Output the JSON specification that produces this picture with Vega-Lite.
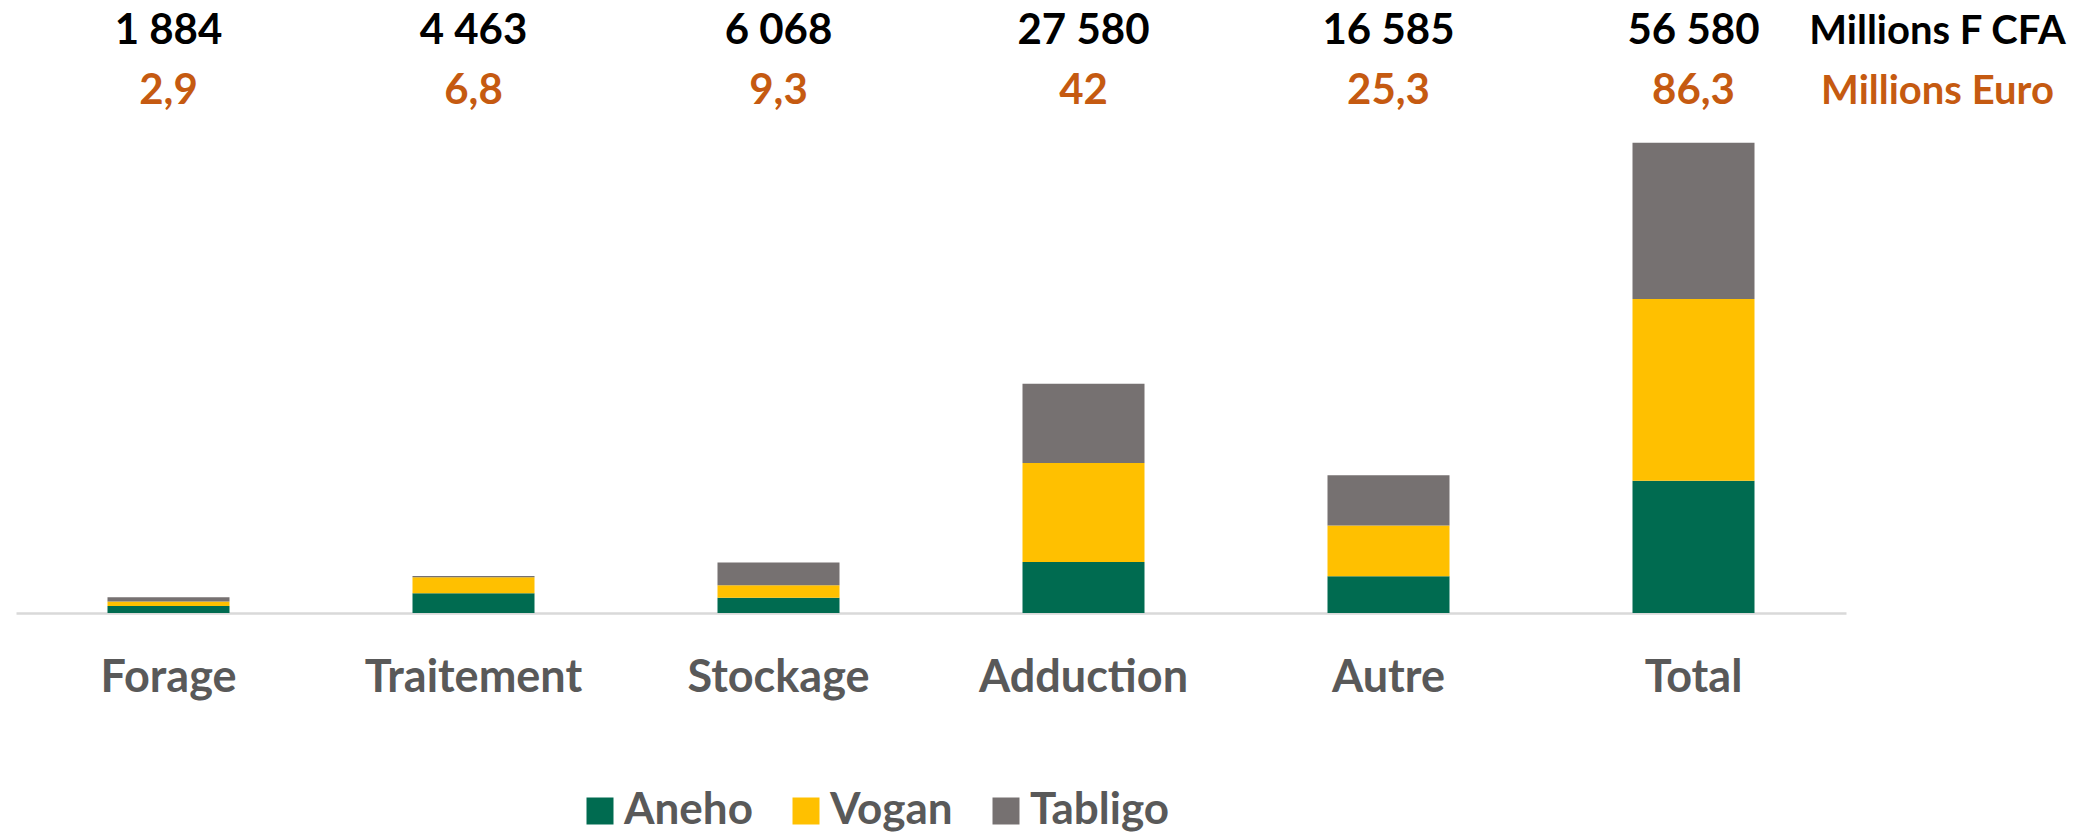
{
  "$schema": "https://vega.github.io/schema/vega-lite/v6.json",
  "padding": {"left": 16, "top": 0, "right": 0, "bottom": 0},
  "background": "white",
  "config": {"view": {"stroke": null}, "font": "Lato"},
  "spacing": 0,
  "datasets": {
    "header": [
      {"cat": "Forage", "unit": "Millions F CFA", "label": "1 884"},
      {"cat": "Traitement", "unit": "Millions F CFA", "label": "4 463"},
      {"cat": "Stockage", "unit": "Millions F CFA", "label": "6 068"},
      {"cat": "Adduction", "unit": "Millions F CFA", "label": "27 580"},
      {"cat": "Autre", "unit": "Millions F CFA", "label": "16 585"},
      {"cat": "Total", "unit": "Millions F CFA", "label": "56 580"},
      {"cat": "Forage", "unit": "Millions Euro", "label": "2,9"},
      {"cat": "Traitement", "unit": "Millions Euro", "label": "6,8"},
      {"cat": "Stockage", "unit": "Millions Euro", "label": "9,3"},
      {"cat": "Adduction", "unit": "Millions Euro", "label": "42"},
      {"cat": "Autre", "unit": "Millions Euro", "label": "25,3"},
      {"cat": "Total", "unit": "Millions Euro", "label": "86,3"}
    ],
    "units": [
      {"cat": "unit", "unit": "Millions F CFA"},
      {"cat": "unit", "unit": "Millions Euro"}
    ],
    "bars": [
      {"cat": "Forage", "site": "Aneho", "ord": 1, "value": 856},
      {"cat": "Forage", "site": "Vogan", "ord": 2, "value": 538},
      {"cat": "Forage", "site": "Tabligo", "ord": 3, "value": 490},
      {"cat": "Traitement", "site": "Aneho", "ord": 1, "value": 2373},
      {"cat": "Traitement", "site": "Vogan", "ord": 2, "value": 1930},
      {"cat": "Traitement", "site": "Tabligo", "ord": 3, "value": 160},
      {"cat": "Stockage", "site": "Aneho", "ord": 1, "value": 1820},
      {"cat": "Stockage", "site": "Vogan", "ord": 2, "value": 1530},
      {"cat": "Stockage", "site": "Tabligo", "ord": 3, "value": 2718},
      {"cat": "Adduction", "site": "Aneho", "ord": 1, "value": 6135},
      {"cat": "Adduction", "site": "Vogan", "ord": 2, "value": 11910},
      {"cat": "Adduction", "site": "Tabligo", "ord": 3, "value": 9535},
      {"cat": "Autre", "site": "Aneho", "ord": 1, "value": 4420},
      {"cat": "Autre", "site": "Vogan", "ord": 2, "value": 6120},
      {"cat": "Autre", "site": "Tabligo", "ord": 3, "value": 6045},
      {"cat": "Total", "site": "Aneho", "ord": 1, "value": 15916},
      {"cat": "Total", "site": "Vogan", "ord": 2, "value": 21860},
      {"cat": "Total", "site": "Tabligo", "ord": 3, "value": 18804}
    ]
  },
  "vconcat": [
    {
      "width": 2060,
      "height": 120,
      "layer": [
        {
          "data": {"name": "header"},
          "mark": {"type": "text", "font": "Lato", "fontWeight": "bold", "fontSize": 42, "baseline": "alphabetic", "align": "center"},
          "encoding": {
            "x": {"field": "cat", "type": "nominal", "sort": null,
                  "scale": {"type": "band", "domain": ["Forage", "Traitement", "Stockage", "Adduction", "Autre", "Total", "unit"], "range": [0, 2135], "paddingInner": 0.6, "paddingOuter": 0.3},
                  "axis": null},
            "y": {"field": "unit", "type": "nominal",
                  "scale": {"type": "point", "domain": ["Millions F CFA", "Millions Euro"], "range": [44, 104], "padding": 0},
                  "axis": null},
            "text": {"field": "label"},
            "color": {"field": "unit", "type": "nominal",
                      "scale": {"domain": ["Millions F CFA", "Millions Euro"], "range": ["#000000", "#C55A11"]},
                      "legend": null}
          }
        },
        {
          "data": {"name": "units"},
          "mark": {"type": "text", "font": "Lato", "fontWeight": "bold", "fontSize": 40, "baseline": "alphabetic", "align": "center"},
          "encoding": {
            "x": {"field": "cat", "type": "nominal", "bandPosition": 0},
            "y": {"field": "unit", "type": "nominal"},
            "text": {"field": "unit"},
            "color": {"field": "unit", "type": "nominal"}
          }
        }
      ]
    },
    {
      "width": 1830,
      "height": 493,
      "data": {"name": "bars"},
      "mark": {"type": "bar"},
      "encoding": {
        "x": {"field": "cat", "type": "nominal",
              "sort": ["Forage", "Traitement", "Stockage", "Adduction", "Autre", "Total"],
              "scale": {"paddingInner": 0.6, "paddingOuter": 0.3},
              "axis": {"title": null, "domain": true, "domainColor": "#D9D9D9", "domainWidth": 2.5,
                       "ticks": false, "tickSize": 0, "labelAngle": 0,
                       "labelFont": "Lato", "labelFontWeight": "bold", "labelFontSize": 45, "labelColor": "#595959",
                       "labelBaseline": "alphabetic", "labelPadding": 78, "labelLimit": 400}},
        "y": {"field": "value", "type": "quantitative", "stack": "zero",
              "scale": {"domain": [0, 59310], "nice": false}, "axis": null},
        "color": {"field": "site", "type": "nominal",
                  "scale": {"domain": ["Aneho", "Vogan", "Tabligo"], "range": ["#006B50", "#FFC000", "#767171"]},
                  "legend": {"orient": "none", "legendX": 562, "legendY": 669, "direction": "horizontal", "title": null,
                             "symbolType": "square", "symbolSize": 729, "symbolStrokeWidth": 0, "symbolOpacity": 1,
                             "labelFont": "Lato", "labelFontWeight": "bold", "labelFontSize": 44, "labelColor": "#595959",
                             "labelOffset": 2, "columnPadding": 31, "labelLimit": 300, "padding": 0}},
        "order": {"field": "ord", "type": "quantitative"}
      }
    }
  ],
  "resolve": {"scale": {"x": "independent", "y": "independent", "color": "independent"}, "legend": {"color": "independent"}}
}
